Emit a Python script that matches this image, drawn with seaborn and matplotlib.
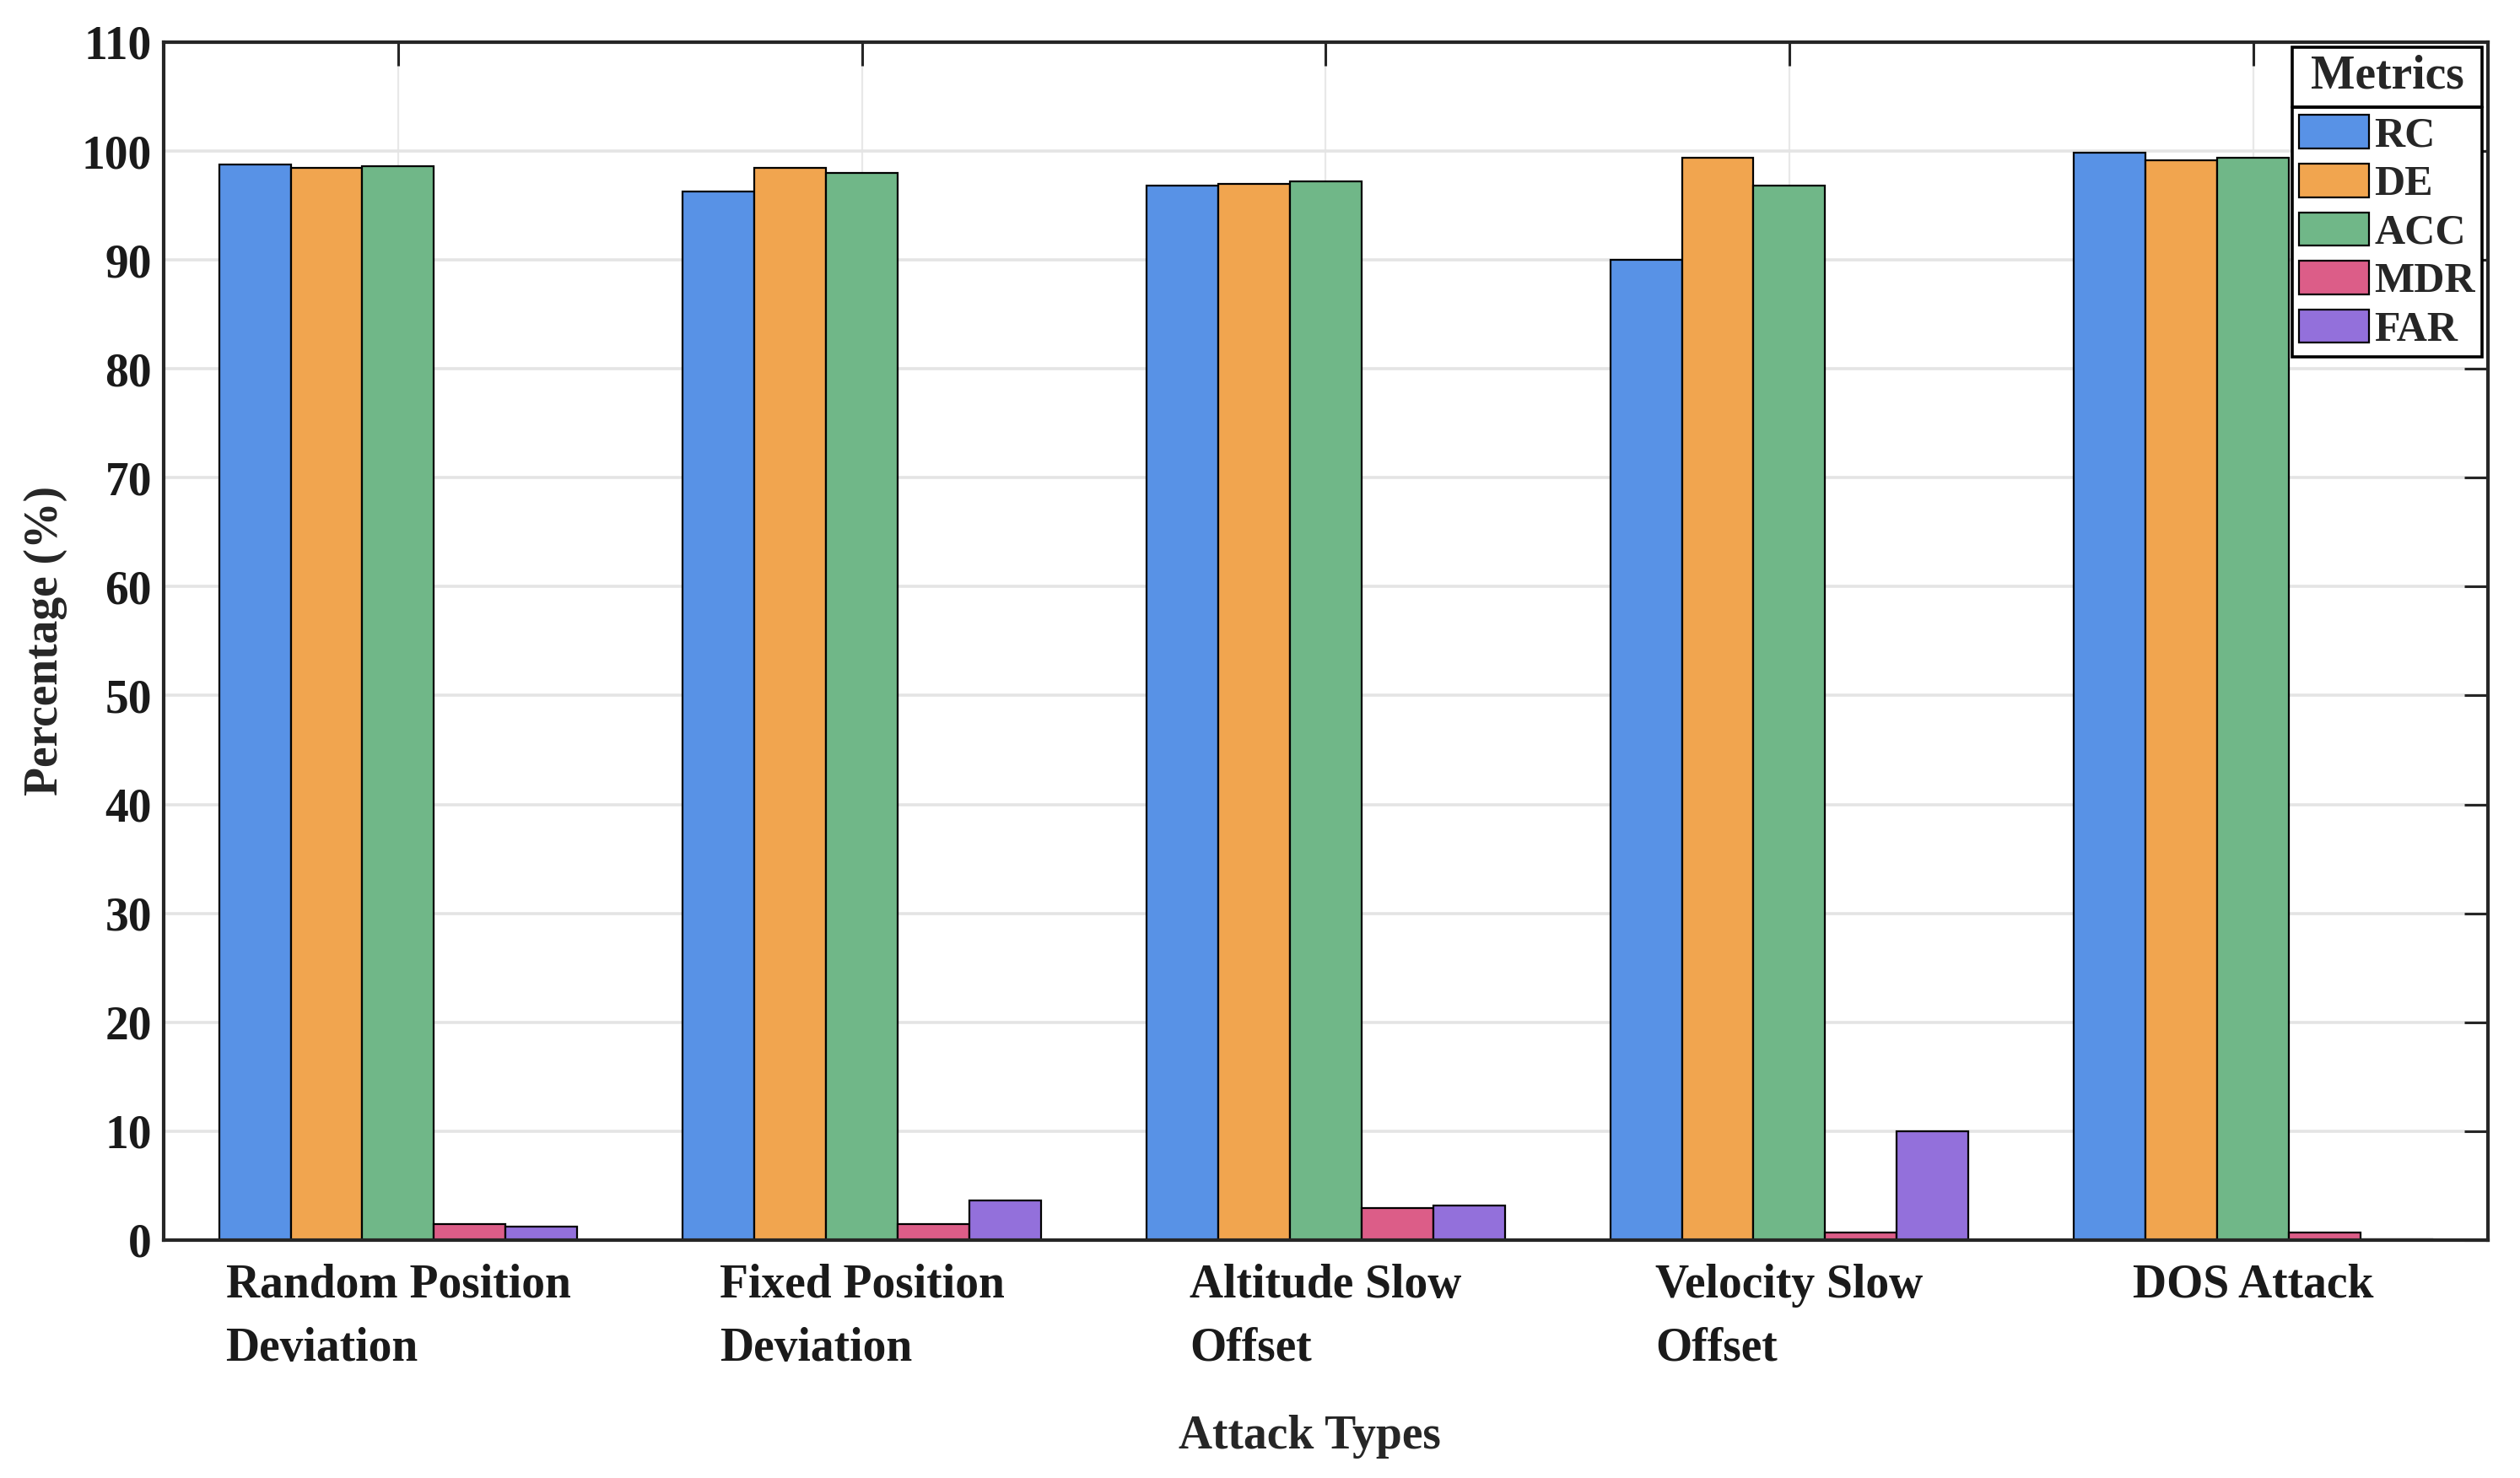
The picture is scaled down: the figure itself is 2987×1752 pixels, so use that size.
import matplotlib
matplotlib.use("Agg")
import matplotlib.pyplot as plt
import pandas as pd
import seaborn as sns
from matplotlib.lines import Line2D

ATTACKS = [
    "Random Position\nDeviation",
    "Fixed Position\nDeviation",
    "Altitude Slow\nOffset",
    "Velocity Slow\nOffset",
    "DOS Attack",
]
METRICS = ["RC", "DE", "ACC", "MDR", "FAR"]
RC = [98.8, 96.3, 96.8, 90.0, 99.85]
DE = [98.45, 98.45, 97.0, 99.35, 99.15]
ACC = [98.6, 97.95, 97.2, 96.85, 99.35]
MDR = [1.45, 1.45, 2.95, 0.7, 0.7]
FAR = [1.2, 3.6, 3.2, 10.0, 0.05]
COLORS = ["#5892E6", "#F1A54F", "#70B788", "#DC5D88", "#9370DB"]


def build_frame() -> pd.DataFrame:
    rows = []
    for metric, values in zip(METRICS, [RC, DE, ACC, MDR, FAR]):
        for attack, v in zip(ATTACKS, values):
            rows.append({"Attack": attack, "Metric": metric, "Value": v})
    return pd.DataFrame(rows)


def main() -> None:
    df = build_frame()

    sns.set_theme(style="white")
    plt.rcParams["font.family"] = ["Liberation Serif", "DejaVu Serif"]
    plt.rcParams["font.weight"] = "bold"
    plt.rcParams["axes.labelweight"] = "bold"

    fig = plt.figure(figsize=(14.935, 8.76), dpi=200)
    ax = fig.add_axes([0.0649, 0.1610, 0.9223, 0.8105])

    sns.barplot(
        data=df, x="Attack", y="Value", hue="Metric",
        order=ATTACKS, hue_order=METRICS, palette=COLORS, saturation=1,
        width=0.773, edgecolor="black", linewidth=0.8, errorbar=None, ax=ax,
    )

    ax.set_xlim(-0.506, 4.506)
    ax.set_ylim(0, 110)
    ax.set_yticks(range(0, 111, 10))

    ax.set_axisbelow(True)
    ax.yaxis.grid(True, color="#e4e4e4", lw=1.3)
    ax.xaxis.grid(True, color="#e8e8e8", lw=0.8)

    for side in ["left", "right", "top", "bottom"]:
        ax.spines[side].set_visible(True)
        ax.spines[side].set_color("#262626")
        ax.spines[side].set_linewidth(1.5)

    ax.tick_params(direction="in", length=10, width=1.1, color="#262626",
                   top=True, right=True, labelsize=20, labelcolor="#1a1a1a")
    ax.tick_params(axis="x", pad=10)
    ax.tick_params(axis="y", pad=5)
    for lab in ax.get_xticklabels():
        lab.set_multialignment("left")
        lab.set_linespacing(1.57)
        lab.set_fontweight("bold")
    for lab in ax.get_yticklabels():
        lab.set_fontweight("bold")

    ax.set_xlabel("Attack Types", fontsize=20, fontweight="bold", labelpad=19, x=0.493)
    ax.set_ylabel("Percentage (%)", fontsize=20, fontweight="bold", labelpad=6)

    handles, labels = ax.get_legend_handles_labels()
    leg = ax.legend(
        handles, labels, title="Metrics", loc="upper right",
        fontsize=18, title_fontsize=20, frameon=True, fancybox=False,
        edgecolor="black", framealpha=1, borderaxespad=0.13, borderpad=0.17,
        handlelength=1.66, handleheight=0.84, handletextpad=0.12,
        labelspacing=0.19,
    )
    leg._legend_box.sep = 7
    leg.get_frame().set_linewidth(1.3)
    leg.get_title().set_fontweight("bold")
    for t in leg.get_texts():
        t.set_fontweight("bold")

    # separator line under the legend title
    fig.canvas.draw()
    renderer = fig.canvas.get_renderer()
    frame = leg.get_frame().get_window_extent(renderer)
    title = leg.get_title().get_window_extent(renderer)
    entries = leg._legend_handle_box.get_window_extent(renderer)
    y = 0.5 * (title.y0 + entries.y1) / fig.bbox.height
    sep = Line2D([frame.x0 / fig.bbox.width, frame.x1 / fig.bbox.width], [y, y],
                 transform=fig.transFigure, color="black", lw=1.4, zorder=20)
    fig.add_artist(sep)

    fig.savefig("out.png", dpi=200)
    plt.close(fig)


if __name__ == "__main__":
    main()
